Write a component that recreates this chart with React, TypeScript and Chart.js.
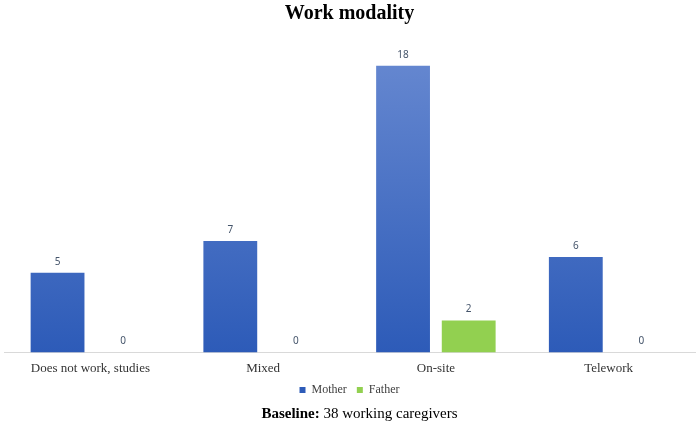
import { useEffect, useRef } from "react";
import { Chart, registerables } from "chart.js";

Chart.register(...registerables);

const categories = ["Does not work, studies", "Mixed", "On-site", "Telework"];
const motherValues = [5, 7, 18, 6];
const fatherValues = [0, 0, 2, 0];
const seriesNames = ["Mother", "Father"];
const captionBold = "Baseline:";
const captionRest = " 38 working caregivers";

const valueLabels = {
  id: "valueLabels",
  afterDatasetsDraw(chart: Chart) {
    const ctx = chart.ctx;
    ctx.save();
    ctx.font = "10px 'Noto Sans', sans-serif";
    ctx.fillStyle = "#44546a";
    ctx.textAlign = "center";
    ctx.textBaseline = "middle";
    chart.data.datasets.forEach((ds, i) => {
      const meta = chart.getDatasetMeta(i);
      meta.data.forEach((bar: any, j: number) => {
        ctx.fillText(String(ds.data[j]), bar.x, bar.y - 11);
      });
    });
    ctx.restore();
  },
};

const caption = {
  id: "caption",
  afterDraw(chart: Chart) {
    const ctx = chart.ctx;
    ctx.save();
    ctx.fillStyle = "#000";
    ctx.textBaseline = "middle";
    ctx.font = "bold 15px 'Liberation Serif', serif";
    const wb = ctx.measureText(captionBold).width;
    ctx.font = "15px 'Liberation Serif', serif";
    const wr = ctx.measureText(captionRest).width;
    const x0 = chart.width / 2 + 10 - (wb + wr) / 2;
    const y = 414;
    ctx.font = "bold 15px 'Liberation Serif', serif";
    ctx.fillText(captionBold, x0, y);
    ctx.font = "15px 'Liberation Serif', serif";
    ctx.fillText(captionRest, x0 + wb, y);
    ctx.restore();
  },
};

function blueGradient(context: any) {
  const { chart } = context;
  const area = chart.chartArea;
  if (!area) return "#4472c4";
  const g = chart.ctx.createLinearGradient(0, area.top, 0, area.bottom);
  g.addColorStop(0, "#6a8bd2");
  g.addColorStop(1, "#2d5bb8");
  return g;
}

export default function App() {
  const canvasRef = useRef<HTMLCanvasElement>(null);
  const chartRef = useRef<Chart | null>(null);

  useEffect(() => {
    if (!canvasRef.current) return;
    if (chartRef.current) chartRef.current.destroy();

    chartRef.current = new Chart(canvasRef.current, {
      type: "bar",
      data: {
        labels: categories,
        datasets: [
          {
            label: seriesNames[0],
            data: motherValues,
            backgroundColor: blueGradient,
            categoryPercentage: 0.76,
            barPercentage: 0.82,
          },
          {
            label: seriesNames[1],
            data: fatherValues,
            backgroundColor: "#92d050",
            categoryPercentage: 0.76,
            barPercentage: 0.82,
          },
        ],
      },
      plugins: [valueLabels, caption],
      options: {
        responsive: true,
        maintainAspectRatio: false,
        animation: false,
        layout: { padding: { left: 4, right: 4, bottom: 19 } },
        plugins: {
          title: {
            display: true,
            text: "Work modality",
            color: "#000",
            font: { family: "'Liberation Serif', serif", size: 20, weight: "bold" },
            padding: { top: 2, bottom: 8 },
          },
          legend: {
            position: "bottom",
            labels: {
              boxWidth: 6,
              boxHeight: 6,
              padding: 10,
              color: "#404040",
              font: { family: "'Liberation Serif', serif", size: 12 },
            },
          },
          tooltip: { enabled: false },
        },
        scales: {
          y: { display: false, min: 0, max: 20 },
          x: {
            grid: { display: false, drawTicks: false },
            border: { display: true, color: "#d9d9d9" },
            ticks: {
              padding: 8,
              color: "#333",
              font: { family: "'Liberation Serif', serif", size: 13 },
            },
            afterFit(scale: any) {
              // tighten the gap between the category labels and the legend
              scale.height -= 10;
            },
          },
        },
      },
    });

    return () => {
      if (chartRef.current) chartRef.current.destroy();
      chartRef.current = null;
    };
  }, []);

  return (
    <div style={{ position: "fixed", left: 0, top: 0, width: 699, height: 425, background: "#fff" }}>
      <canvas ref={canvasRef} />
    </div>
  );
}
